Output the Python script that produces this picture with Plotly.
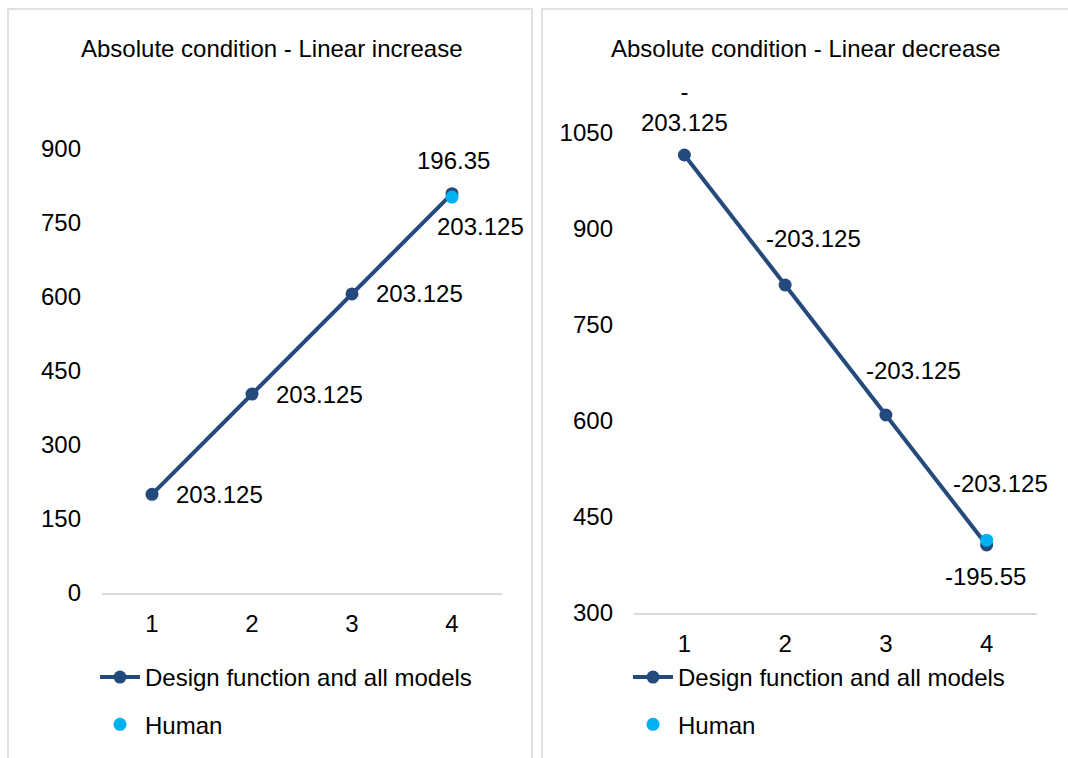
import plotly.graph_objects as go

# Positions 1..4 on the horizontal axis
steps = [1, 2, 3, 4]

# Linear increase panel
inc_model = [200.0, 403.125, 606.25, 809.375]
inc_model_labels = ["203.125", "203.125", "203.125", "203.125"]
inc_human_step = [4]
inc_human = [802.6]
inc_human_labels = ["196.35"]

# Linear decrease panel
dec_model = [1015.625, 812.5, 609.375, 406.25]
dec_model_labels = ["-<br>203.125", "-203.125", "-203.125", "-203.125"]
dec_human_step = [4]
dec_human = [413.8]
dec_human_labels = ["-195.55"]

inc_yticks = [0, 150, 300, 450, 600, 750, 900]
dec_yticks = [300, 450, 600, 750, 900, 1050]

W, H = 1068, 758
LINE = "#244a7c"
HUMAN = "#00b0f0"
FONT = "Liberation Sans, Arial, sans-serif"
TXT = 24


def px(x):
    return x / W


def py(y):
    return 1 - y / H


fig = go.Figure()

# Model lines and human points
fig.add_trace(go.Scatter(x=steps, y=inc_model, mode="lines+markers",
                         name="Design function and all models", legendgroup="m1",
                         line=dict(color=LINE, width=4),
                         marker=dict(size=13, color=LINE),
                         xaxis="x", yaxis="y", legend="legend"))
fig.add_trace(go.Scatter(x=inc_human_step, y=inc_human, mode="markers", name="Human",
                         legendgroup="h1", marker=dict(size=13, color=HUMAN),
                         xaxis="x", yaxis="y", legend="legend"))
fig.add_trace(go.Scatter(x=steps, y=dec_model, mode="lines+markers",
                         name="Design function and all models", legendgroup="m2",
                         line=dict(color=LINE, width=4),
                         marker=dict(size=13, color=LINE),
                         xaxis="x2", yaxis="y2", legend="legend2"))
fig.add_trace(go.Scatter(x=dec_human_step, y=dec_human, mode="markers", name="Human",
                         legendgroup="h2", marker=dict(size=13, color=HUMAN),
                         xaxis="x2", yaxis="y2", legend="legend2"))

annotations = []


def label(xref, yref, x, y, text, dx, dy, anchor="center"):
    annotations.append(dict(x=x, y=y, xref=xref, yref=yref, text=text, showarrow=False,
                            xanchor=anchor, yanchor="middle", xshift=dx, yshift=dy,
                            font=dict(size=TXT, color="#000000", family=FONT)))


# Data labels, increase panel
inc_offsets = [(22, 0, "left"), (22, 0, "left"), (22, 0, "left"), (28, -33, "center")]
for s, v, t, (dx, dy, a) in zip(steps, inc_model, inc_model_labels, inc_offsets):
    label("x", "y", s, v, t, dx, dy, a)
for s, v, t in zip(inc_human_step, inc_human, inc_human_labels):
    label("x", "y", s, v, t, 1, 37)

# Data labels, decrease panel
dec_offsets = [(0, 48), (28, 47), (28, 45), (14, 62)]
for s, v, t, (dx, dy) in zip(steps, dec_model, dec_model_labels, dec_offsets):
    label("x2", "y2", s, v, t, dx, dy)
for s, v, t in zip(dec_human_step, dec_human, dec_human_labels):
    label("x2", "y2", s, v, t, -1, -36)

# Panel titles
for xc, title in [(272, "Absolute condition - Linear increase"),
                  (806, "Absolute condition - Linear decrease")]:
    annotations.append(dict(x=px(xc), y=py(48), xref="paper", yref="paper", text=title,
                            showarrow=False, xanchor="center", yanchor="middle",
                            font=dict(size=TXT, color="#000000", family=FONT)))

# Panel frames
shapes = [
    dict(type="rect", xref="paper", yref="paper", x0=px(8), x1=px(532), y0=py(790), y1=py(9),
         line=dict(color="#d9d9d9", width=1.5), layer="below"),
    dict(type="rect", xref="paper", yref="paper", x0=px(542), x1=px(1090), y0=py(790), y1=py(9),
         line=dict(color="#d9d9d9", width=1.5), layer="below"),
]

xaxis_common = dict(range=[0.5, 4.5], tickvals=steps, ticktext=[str(s) for s in steps],
                    showgrid=False, zeroline=False, showline=True, linecolor="#d9d9d9",
                    linewidth=1.5, ticks="", ticklabelstandoff=8, automargin=False,
                    tickfont=dict(size=TXT, color="#000000", family=FONT), fixedrange=True)
yaxis_common = dict(showgrid=False, zeroline=False, showline=False, ticks="",
                    ticklabelstandoff=20, automargin=False,
                    tickfont=dict(size=TXT, color="#000000", family=FONT), fixedrange=True)

legend_common = dict(orientation="v", font=dict(size=TXT, color="#000000", family=FONT),
                     bgcolor="rgba(0,0,0,0)", tracegroupgap=13, itemwidth=40,
                     xanchor="left", yanchor="top", traceorder="grouped")

fig.update_layout(
    width=W, height=H,
    margin=dict(l=0, r=0, t=0, b=0, pad=0, autoexpand=False),
    paper_bgcolor="#ffffff", plot_bgcolor="#ffffff",
    font=dict(family=FONT, color="#000000"),
    showlegend=True,
    xaxis=dict(domain=[px(102), px(502)], anchor="y", **xaxis_common),
    yaxis=dict(domain=[py(593), py(149)], anchor="x", range=[0, 900], tickvals=inc_yticks,
               **yaxis_common),
    xaxis2=dict(domain=[px(634), px(1037)], anchor="y2", **xaxis_common),
    yaxis2=dict(domain=[py(613), py(133)], anchor="x2", range=[300, 1050], tickvals=dec_yticks,
                **yaxis_common),
    legend=dict(x=px(95), y=py(655), **legend_common),
    legend2=dict(x=px(628), y=py(655), **legend_common),
    annotations=annotations,
    shapes=shapes,
)

fig.write_html("out.html")
